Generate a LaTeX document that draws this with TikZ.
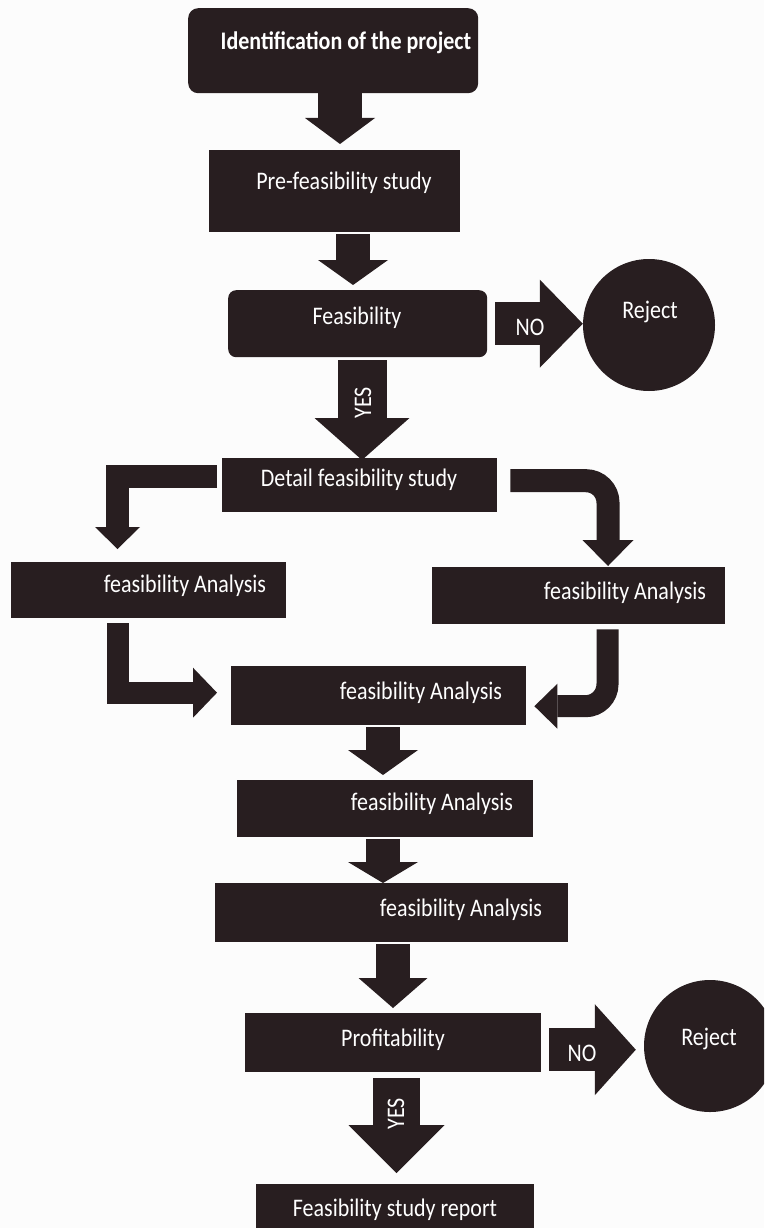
\documentclass[tikz,border=0pt]{standalone}
\usepackage{fontspec}
\usepackage{graphicx}
\setmainfont{Carlito}
\usetikzlibrary{arrows.meta,calc}
\definecolor{ink}{RGB}{40,30,32}
\definecolor{paper}{RGB}{252,252,252}
\newcommand{\st}[1]{\scalebox{1}[1.15]{#1}}
\tikzset{
  box/.style={fill=ink, draw=none, inner sep=0pt, anchor=north west},
  rbox/.style={box, rounded corners=10pt},
  txt/.style={text=white, inner sep=0pt, font=\fontsize{22}{26}\selectfont},
  btxt/.style={txt, font=\fontsize{22}{26}\selectfont\bfseries},
  disc/.style={circle, fill=ink, draw=none, minimum size=132pt, inner sep=0pt},
}
\newcommand{\blk}[4]{\draw[ink, line width=#1pt, -{Triangle[length=#2pt,width=#3pt,line width=0pt]}, #4]}
\begin{document}
\begin{tikzpicture}[x=1pt,y=-1pt]
\useasboundingbox (0,0) rectangle (764,1228);
\clip (0,0) rectangle (764,1228);
\fill[paper] (0,0) rectangle (764,1228);

% boxes
\node[rbox, minimum width=290pt, minimum height=85pt] (id) at (188,8) {};
\node[btxt] (tid) at (346,43) {\st{Identification of the project}};

\node[box, minimum width=251pt, minimum height=82pt] (pre) at (209,150) {};
\node[txt] (tpre) at (344,183) {\st{Pre-feasibility study}};

\node[rbox, rounded corners=8pt, minimum width=259pt, minimum height=67pt] (feas) at (228,290) {};
\node[txt] (tfeas) at (357,318) {\st{Feasibility}};

\node[disc] (rej1) at (649,325) {};
\node[txt] (trej1) at (650,312) {\st{Reject}};

\node[box, minimum width=275pt, minimum height=54pt] (det) at (222,458) {};
\node[txt] (tdet) at (359,480) {\st{Detail feasibility study}};

\node[box, minimum width=275pt, minimum height=56pt] (fa1) at (11,562) {};
\node[txt] (tfa1) at (185,586) {\st{feasibility Analysis}};

\node[box, minimum width=293pt, minimum height=57pt] (fa2) at (432,567) {};
\node[txt] (tfa2) at (625,593) {\st{feasibility Analysis}};

\node[box, minimum width=295pt, minimum height=59pt] (fa3) at (231,666) {};
\node[txt] (tfa3) at (421,693) {\st{feasibility Analysis}};

\node[box, minimum width=296pt, minimum height=57pt] (fa4) at (237,780) {};
\node[txt] (tfa4) at (432,804) {\st{feasibility Analysis}};

\node[box, minimum width=353pt, minimum height=59pt] (fa5) at (215,883) {};
\node[txt] (tfa5) at (461,910) {\st{feasibility Analysis}};

\node[box, minimum width=296pt, minimum height=59pt] (prof) at (245,1013) {};
\node[txt] (tprof) at (393,1040) {\st{Profitability}};

\node[disc] (rej2) at (710,1046) {};
\node[txt] (trej2) at (709,1039) {\st{Reject}};

\node[box, minimum width=278pt, minimum height=60pt] (fsr) at (256,1184) {};
\node[txt] (tfsr) at (395,1210) {\st{Feasibility study report}};

% arrows
\blk{44}{26}{70}{} (340,0 |- id.south) -- ($(340,0 |- pre.north)+(0,-6)$);
\blk{34}{25}{70}{} ($(353,0 |- pre.south)+(0,2)$) -- ($(353,0 |- feas.north)+(0,-5)$);
\blk{43}{43}{88}{} ([xshift=8pt]feas.east) -- (rej1.west |- feas.east);
\node[txt] (no1) at (530,327) {\st{NO}};
\blk{49}{42}{95}{} ($(362,0 |- feas.south)+(0,3)$) -- ($(362,0 |- det.north)+(0,2)$);
\node[txt, rotate=90] (yes1) at (363,403) {\st{YES}};

\blk{23}{22}{45}{} ([xshift=-5pt,yshift=8.5pt]det.west) -| ($(117.5,0 |- fa1.north)+(0,-13)$);
\blk{23}{26}{51}{rounded corners=22pt} ([xshift=13pt,yshift=4.5pt]det.east) -| ($(608,0 |- fa2.north)+(0,-1)$);
\blk{22}{24}{50}{} ($(117.5,0 |- fa1.south)+(0,5)$) |- ($(fa3.west)+(-14,-3)$);
\blk{22}{23}{45}{rounded corners=22pt} ($(607.5,0 |- fa2.south)+(0,5)$) |- ($(fa3.east)+(8,10.5)$);

\blk{34}{25}{70}{} ($(383,0 |- fa3.south)+(0,2)$) -- ($(383,0 |- fa4.north)+(0,-5)$);
\blk{34}{21}{70}{} ($(383,0 |- fa4.south)+(0,2)$) -- (383,0 |- fa5.north);
\blk{34}{30}{69}{} ($(393,0 |- fa5.south)+(0,2)$) -- ($(393,0 |- prof.north)+(0,-5)$);

\coordinate (n2) at ([xshift=8pt,yshift=-7pt]prof.east);
\blk{43}{41}{91}{} (n2) -- ($(rej2.west |- n2)+(-8,0)$);
\node[txt] (no2) at (582,1053) {\st{NO}};
\blk{47}{48}{96}{} ($(396.5,0 |- prof.south)+(0,6)$) -- ($(396.5,0 |- fsr.north)+(0,-11)$);
\node[txt, rotate=90] (yes2) at (396,1114) {\st{YES}};
\end{tikzpicture}
\end{document}
